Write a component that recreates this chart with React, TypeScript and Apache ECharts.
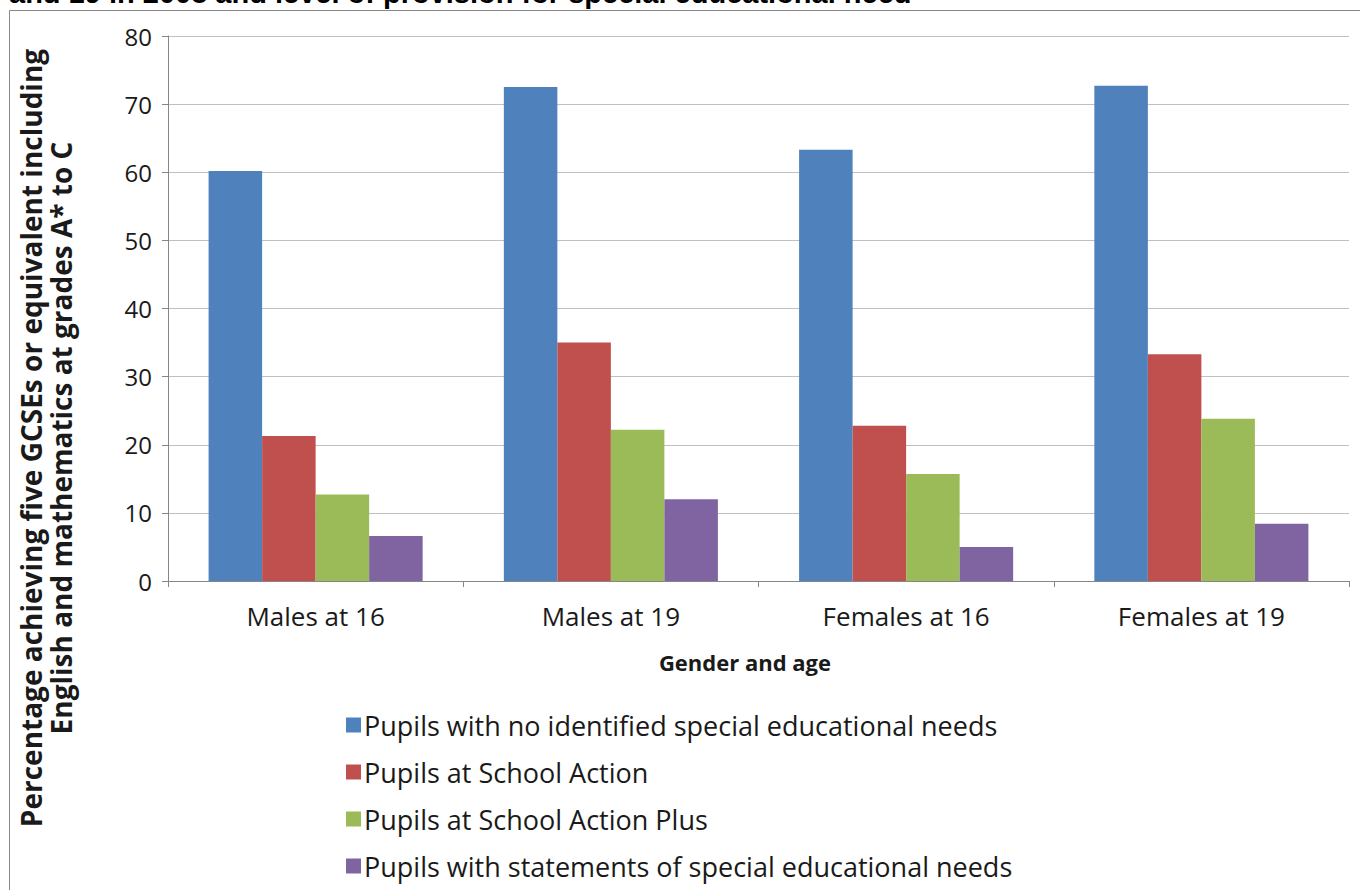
import React, { useEffect, useRef } from "react";
import * as echarts from "echarts";

// Gender / age groups on the category axis
const categories = ["Males at 16", "Males at 19", "Females at 16", "Females at 19"];

// Percentage achieving five GCSEs (incl. English and maths) at A*–C, by SEN provision
const noSEN = [60.2, 72.5, 63.3, 72.7];
const schoolAction = [21.3, 35.0, 22.8, 33.3];
const schoolActionPlus = [12.7, 22.2, 15.7, 23.8];
const statements = [6.6, 12.0, 5.0, 8.4];

const seriesNames = [
  "Pupils with no identified special educational needs",
  "Pupils at School Action",
  "Pupils at School Action Plus",
  "Pupils with statements of special educational needs",
];
const seriesColors = ["#4F81BD", "#C0504D", "#9BBB59", "#8064A2"];
const seriesData = [noSEN, schoolAction, schoolActionPlus, statements];

const yTicks = { min: 0, max: 80, interval: 10 };

const FONT = "'Open Sans', 'Noto Sans', sans-serif";

export default function App() {
  const ref = useRef<HTMLDivElement>(null);

  useEffect(() => {
    if (!ref.current) return;
    const chart = echarts.init(ref.current, undefined, { renderer: "svg" });
    chart.setOption({
      animation: false,
      backgroundColor: "#ffffff",
      grid: { left: 168, right: 11, top: 36, bottom: 309 },
      xAxis: {
        type: "category",
        data: categories,
        axisLine: { lineStyle: { color: "#868686", width: 1 } },
        axisTick: { show: true, length: 6, lineStyle: { color: "#868686" } },
        axisLabel: { color: "#1a1a1a", fontFamily: FONT, fontSize: 26, margin: 22 },
        splitLine: { show: false },
      },
      yAxis: {
        type: "value",
        min: yTicks.min,
        max: yTicks.max,
        interval: yTicks.interval,
        axisLine: { show: true, lineStyle: { color: "#868686", width: 1 } },
        axisTick: { show: true, length: 6, lineStyle: { color: "#868686" } },
        axisLabel: { color: "#1a1a1a", fontFamily: FONT, fontSize: 24, margin: 16 },
        splitLine: { show: true, lineStyle: { color: "#c0c0c0", width: 1 } },
      },
      legend: {
        orient: "vertical",
        left: 341,
        top: 705,
        height: 200,
        icon: "rect",
        itemWidth: 15,
        itemHeight: 15,
        itemGap: 17,
        textStyle: { color: "#1a1a1a", fontFamily: FONT, fontSize: 27, lineHeight: 30, padding: [0, 0, 0, -2] },
        data: seriesNames,
      },
      series: seriesNames.map((name, i) => ({
        name,
        type: "bar",
        data: seriesData[i],
        barGap: "0%",
        barCategoryGap: "27.5%",
        itemStyle: { color: seriesColors[i] },
      })),
      graphic: [
        {
          type: "rect",
          silent: true,
          shape: { x: 9.5, y: 10.5, width: 1400, height: 1000 },
          style: { fill: "none", stroke: "#868686", lineWidth: 1 },
        },
        {
          type: "text",
          left: 9,
          top: -22,
          style: {
            text: "and 19 in 2008 and level of provision for special educational need",
            font: "bold 29px 'Liberation Sans', Arial, sans-serif",
            fill: "#000000",
          },
        },
        {
          type: "text",
          x: 46,
          y: 438,
          rotation: Math.PI / 2,
          style: {
            text:
              "Percentage achieving five GCSEs or equivalent including\nEnglish and mathematics at grades A* to C",
            font: `bold 28px ${FONT}`,
            lineHeight: 30,
            align: "center",
            verticalAlign: "middle",
            fill: "#1a1a1a",
          },
        },
        {
          type: "text",
          x: 745,
          y: 662,
          style: {
            text: "Gender and age",
            font: `bold 22px ${FONT}`,
            align: "center",
            verticalAlign: "middle",
            fill: "#1a1a1a",
          },
        },
      ],
    });
    return () => chart.dispose();
  }, []);

  return (
    <div
      ref={ref}
      style={{ position: "absolute", left: 0, top: 0, width: 1360, height: 890 }}
    />
  );
}
